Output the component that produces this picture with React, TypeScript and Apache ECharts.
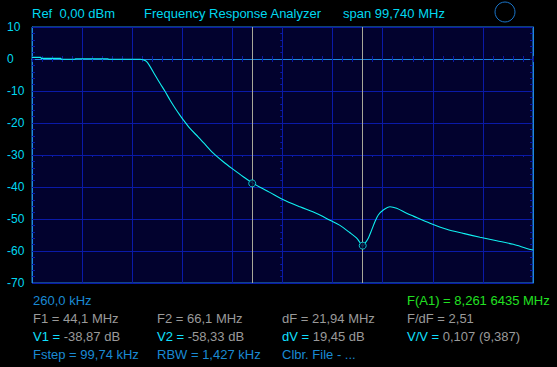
import React, { useEffect, useRef } from "react";
import * as echarts from "echarts";

// ---- data ----
const freqMHz = [
  0.26, 2.0, 2.1, 6.0, 6.1, 8.8, 8.9, 15.4, 15.5, 21.8, 22.5, 23.09, 23.75, 24.75, 25.74,
  26.74, 27.73, 28.73, 29.73, 30.38, 31.71, 33.37, 34.5, 36.35, 38.34, 40.33, 42.32, 44.12,
  45.65, 47.5, 50.09, 53.61, 56.94, 59.58, 61.57, 63.56, 64.9, 65.56, 66.0, 66.55, 67.21,
  67.89, 68.55, 69.2, 70.2, 71.53, 72.86, 74.85, 76.17, 79.49, 82.82, 86.12, 89.45, 92.77,
  96.08, 98.75, 100.0,
];
const levelDb = [
  0.5, 0.5, 0.2, 0.2, -0.1, -0.1, 0.1, 0.1, -0.1, -0.1, -0.3, -0.8, -2.3, -5.0, -7.6,
  -10.1, -12.8, -15.3, -17.6, -19.0, -21.7, -24.4, -26.3, -29.4, -32.1, -34.5, -36.8, -38.7,
  -40.1, -41.6, -43.8, -46.2, -48.3, -50.4, -52.0, -54.3, -56.0, -57.4, -58.6, -57.6, -56.0,
  -53.4, -50.8, -48.75, -47.2, -46.15, -46.65, -48.2, -49.1, -51.3, -53.2, -54.5, -55.7, -56.8,
  -57.9, -59.2, -59.7,
];
const cursorFreqs = [44.1, 66.1];
const cursorLevels = [-38.87, -58.33];
const yTicks = [10, 0, -10, -20, -30, -40, -50, -60, -70];
const startMHz = 0.26;
const stopMHz = 100;
const divisions = 10;

const headerTexts = ["Ref  0,00 dBm", "Frequency Response Analyzer", "span 99,740 MHz"];
const startLabel = "260,0 kHz";
const markerLabel = "F(A1) = 8,261 6435 MHz";
const rowF = ["F1 = 44,1 MHz", "F2 = 66,1 MHz", "dF = 21,94 MHz", "F/dF = 2,51"];
const rowVKeys = ["V1 =", "V2 =", "dV =", "V/V ="];
const rowVVals = ["-38,87 dB", "-58,33 dB", "19,45 dB", "0,107 (9,387)"];
const rowInfo = ["Fstep = 99,74 kHz", "RBW = 1,427 kHz", "Clbr. File - ..."];

const FONT = "Liberation Sans, Arial, sans-serif";
const CYAN = "#00d8f0";
const GRAY = "#9a9a9a";
const BLUE = "#1a8ad4";
const GREEN = "#22e022";
const GRIDC = "#0a1aa8";
const BORDER = "#1e88e0";

export default function App() {
  const ref = useRef<HTMLDivElement>(null);
  useEffect(() => {
    if (!ref.current) return;
    const chart = echarts.init(ref.current, null, { renderer: "svg" });
    const interval = (stopMHz - startMHz) / divisions;
    const minor = { show: true, splitNumber: 5, length: 3, lineStyle: { color: GRIDC, width: 1 } };
    const xBase = (extra: any) => ({
      type: "value",
      min: startMHz,
      max: stopMHz,
      interval,
      axisLabel: { show: false },
      splitLine: { show: false },
      axisTick: { show: true, inside: true, length: 3, lineStyle: { color: GRIDC } },
      minorTick: minor,
      axisLine: { show: true, lineStyle: { color: BORDER, width: 1 } },
      ...extra,
    });
    const yBase = (extra: any) => ({
      type: "value",
      min: -70,
      max: 10,
      interval: 10,
      axisLabel: { show: false },
      splitLine: { show: false },
      axisTick: { show: true, inside: true, length: 3, lineStyle: { color: GRIDC } },
      minorTick: minor,
      axisLine: { show: true, lineStyle: { color: BORDER, width: 1 } },
      ...extra,
    });
    const centerMinor = { ...minor, length: 2 };
    const y0 = 27;
    const rowY = [300, 318, 336, 354];
    const colX = [33, 157, 282, 407];
    const txt = (x: number, y: number, text: string, fill: string, size = 13) => ({
      type: "text",
      x,
      y,
      silent: true,
      style: { text, fill, font: `${size}px ${FONT}`, align: "left", verticalAlign: "middle" },
    });
    const graphics: any[] = [
      txt(32, 13, headerTexts[0], CYAN),
      txt(144, 13, headerTexts[1], CYAN),
      txt(343, 13, headerTexts[2], CYAN),
      {
        type: "circle",
        silent: true,
        shape: { cx: 505, cy: 12, r: 10 },
        style: { fill: "none", stroke: "#1a74c8", lineWidth: 1 },
      },
      txt(colX[0], rowY[0], startLabel, BLUE),
      txt(colX[3], rowY[0], markerLabel, GREEN),
    ];
    rowF.forEach((t, i) => graphics.push(txt(colX[i], rowY[1], t, GRAY)));
    rowVKeys.forEach((k, i) =>
      graphics.push({
        type: "text",
        x: colX[i],
        y: rowY[2],
        silent: true,
        style: {
          text: `{k|${k}} {v|${rowVVals[i]}}`,
          font: `13px ${FONT}`,
          verticalAlign: "middle",
          rich: {
            k: { fill: "#10e0ff", font: `13px ${FONT}` },
            v: { fill: GRAY, font: `13px ${FONT}` },
          },
        },
      })
    );
    rowInfo.forEach((t, i) => graphics.push(txt(colX[i], rowY[3], t, BLUE)));

    chart.setOption({
      animation: false,
      backgroundColor: "#000000",
      grid: {
        left: 32,
        right: 24,
        top: y0,
        bottom: 84,
        show: true,
        backgroundColor: "#02022e",
        borderColor: BORDER,
        borderWidth: 1,
      },
      xAxis: [
        xBase({ position: "bottom", splitLine: { show: true, lineStyle: { color: GRIDC, width: 1 } } }),
        xBase({ position: "top" }),
        xBase({
          position: "bottom",
          offset: -128,
          axisLine: { show: false },
          axisTick: { show: false },
          minorTick: centerMinor,
        }),
        xBase({
          position: "bottom",
          offset: -128,
          axisLine: { show: false },
          axisTick: { show: false, inside: false },
          minorTick: centerMinor,
        }),
      ],
      yAxis: [
        yBase({
          position: "left",
          axisLabel: {
            show: true,
            color: CYAN,
            fontSize: 12,
            fontFamily: FONT,
            align: "left",
            margin: 25,
            customValues: yTicks,
          },
          splitLine: { show: true, lineStyle: { color: GRIDC, width: 1 } },
        }),
        yBase({ position: "right" }),
        yBase({
          position: "left",
          offset: -250.5,
          axisLine: { show: false },
          axisTick: { show: false },
          minorTick: centerMinor,
        }),
        yBase({
          position: "left",
          offset: -250.5,
          axisLine: { show: false },
          axisTick: { show: false, inside: false },
          minorTick: centerMinor,
        }),
      ],
      series: [
        {
          type: "line",
          xAxisIndex: 0,
          yAxisIndex: 0,
          data: freqMHz.map((f, i) => [f, levelDb[i]]),
          showSymbol: false,
          symbol: "none",
          smooth: 0.3,
          lineStyle: { color: "#10f0f0", width: 1.1 },
          z: 5,
          markLine: {
            silent: true,
            symbol: "none",
            label: { show: false },
            lineStyle: { color: "#a8a898", width: 1, type: "solid" },
            data: cursorFreqs.map((f) => ({ xAxis: f })),
          },
        },
        {
          type: "scatter",
          xAxisIndex: 0,
          yAxisIndex: 0,
          data: cursorFreqs.map((f, i) => [f, cursorLevels[i]]),
          symbol: "circle",
          symbolSize: 7,
          itemStyle: { color: "#02022e", borderColor: "#10f0f0", borderWidth: 1 },
          z: 6,
        },
      ],
      graphic: graphics,
    });
    return () => chart.dispose();
  }, []);
  return (
    <div
      ref={ref}
      style={{ position: "fixed", left: 0, top: 0, width: 557, height: 367 }}
    />
  );
}
